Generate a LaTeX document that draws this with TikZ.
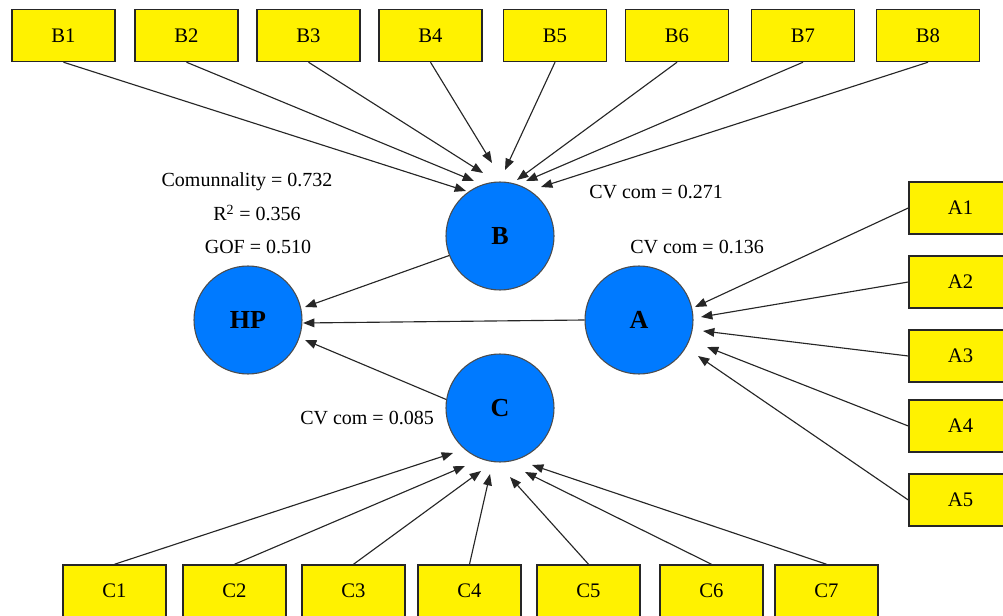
\documentclass[tikz,border=0pt]{standalone}
\usepackage{fontspec}
\setmainfont{Liberation Serif}
\usetikzlibrary{arrows.meta,calc}
\definecolor{boxyellow}{RGB}{255,242,0}
\definecolor{lvblue}{RGB}{0,122,255}
\begin{document}
\begin{tikzpicture}[x=0.75pt,y=-0.75pt,
 indbox/.style={draw=black!85,line width=1.1pt,fill=boxyellow,minimum width=77.25pt,minimum height=39pt,inner sep=0pt,font=\fontsize{15.5}{18}\selectfont},
 latent/.style={circle,draw=black!70,line width=0.8pt,fill=lvblue,minimum size=81pt,inner sep=0pt,font=\fontsize{19.5}{22}\selectfont\bfseries},
 lbl/.style={font=\fontsize{15}{18}\selectfont,inner sep=0pt},
 arr/.style={draw=black!85,line width=0.85pt,-{Triangle[length=8.5pt,width=6.5pt]}}]
\useasboundingbox (0,0) rectangle (1003,616);
\clip (0,0) rectangle (1003,616);
% latent variables
\node[latent] (HP) at (248,320) {HP};
\node[latent] (B) at (500,236) {B};
\node[latent] (A) at (639,320) {A};
\node[latent] (C) at (500,408) {C};
% B indicators
\node[indbox] (B1) at (63.5,35.5) {B1};
\node[indbox] (B2) at (186.5,35.5) {B2};
\node[indbox] (B3) at (308.5,35.5) {B3};
\node[indbox] (B4) at (430.5,35.5) {B4};
\node[indbox] (B5) at (555,35.5) {B5};
\node[indbox] (B6) at (677,35.5) {B6};
\node[indbox] (B7) at (803,35.5) {B7};
\node[indbox] (B8) at (928,35.5) {B8};
% A indicators
\node[indbox] (A1) at (960.5,208) {A1};
\node[indbox] (A2) at (960.5,282) {A2};
\node[indbox] (A3) at (960.5,356) {A3};
\node[indbox] (A4) at (960.5,426) {A4};
\node[indbox] (A5) at (960.5,500) {A5};
% C indicators
\node[indbox] (C1) at (114.5,591) {C1};
\node[indbox] (C2) at (234.5,591) {C2};
\node[indbox] (C3) at (353.5,591) {C3};
\node[indbox] (C4) at (469.5,591) {C4};
\node[indbox] (C5) at (588.5,591) {C5};
\node[indbox] (C6) at (711.5,591) {C6};
\node[indbox] (C7) at (826.5,591) {C7};
% labels
\node[lbl] (l1) at (247,182) {Comunnality = 0.732};
\node[lbl] (l2) at (257,213) {R\textsuperscript{2} = 0.356};
\node[lbl] (l3) at (258,247) {GOF = 0.510};
\node[lbl] (l4) at (656,192) {CV com = 0.271};
\node[lbl] (l5) at (697,247) {CV com = 0.136};
\node[lbl] (l6) at (367,418) {CV com = 0.085};
% B arrows
\draw[arr] (B1.south) -- ($(B)+(-34,-45)$);
\draw[arr] (B2.south) -- ($(B)+(-26,-55)$);
\draw[arr] (B3.south) -- ($(B)+(-17,-63)$);
\draw[arr] (B4.south) -- ($(B)+(-8,-73)$);
\draw[arr] (B5.south) -- ($(B)+(5,-66)$);
\draw[arr] (B6.south) -- ($(B)+(17,-56)$);
\draw[arr] (B7.south) -- ($(B)+(26,-55)$);
\draw[arr] (B8.south) -- ($(B)+(41,-49)$);
% A arrows
\draw[arr] (A1.west) -- ($(A)+(56,-13)$);
\draw[arr] (A2.west) -- ($(A)+(62,-3)$);
\draw[arr] (A3.west) -- ($(A)+(64,11)$);
\draw[arr] (A4.west) -- ($(A)+(68,27)$);
\draw[arr] (A5.west) -- ($(A)+(59,36)$);
% C arrows
\draw[arr] (C1.north) -- ($(C)+(-47,45)$);
\draw[arr] (C2.north) -- ($(C)+(-35,58)$);
\draw[arr] (C3.north) -- ($(C)+(-19,63)$);
\draw[arr] (C4.north) -- ($(C)+(-10,66)$);
\draw[arr] (C5.north) -- ($(C)+(10,69)$);
\draw[arr] (C6.north) -- ($(C)+(25,64)$);
\draw[arr] (C7.north) -- ($(C)+(32,57)$);
% structural arrows
\draw[arr] (B.201) -- ($(HP)+(57,-13)$);
\draw[arr] (A.west) -- ($(HP)+(55,3)$);
\draw[arr] (C.171) -- ($(HP)+(57,20)$);
\end{tikzpicture}
\end{document}
